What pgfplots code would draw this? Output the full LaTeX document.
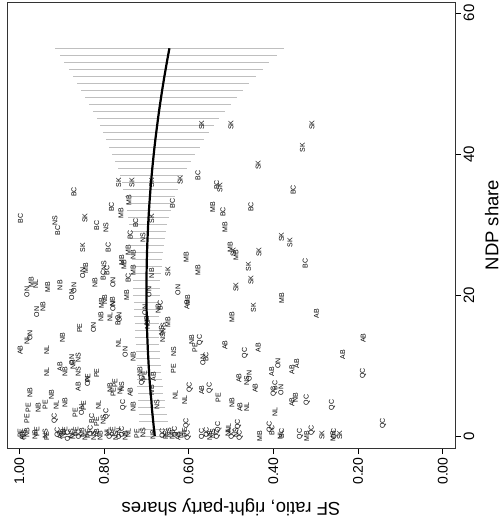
\documentclass[border=0pt]{standalone}
\usepackage{fontspec}
\setmainfont{Liberation Sans}
\usepackage{pgfplots}
\pgfplotsset{compat=1.18}
\usepackage{pgfplotstable}

\pgfplotstableread{
sf ndp lab
0.569 44.1 SK
0.500 44.1 SK
0.309 44.1 SK
0.331 40.9 SK
0.436 38.4 SK
0.578 37.0 BC
0.620 36.3 SK
0.765 35.9 SK
0.734 35.9 SK
0.687 35.9 SK
0.534 35.6 BC
0.526 35.2 SK
0.353 34.9 BC
0.871 34.6 BC
0.741 33.5 MB
0.638 33.0 BC
0.543 32.5 MB
0.453 32.5 BC
0.782 32.5 BC
0.519 31.8 BC
0.760 31.6 MB
0.997 30.9 BC
0.845 30.9 SK
0.687 30.8 SK
0.725 30.2 BC
0.916 30.6 NS
0.909 29.2 BC
0.817 29.9 BC
0.795 29.6 NS
0.514 29.6 MB
0.738 28.5 BC
0.708 28.2 NS
0.381 28.2 SK
0.361 27.4 SK
0.502 26.8 MB
0.850 26.7 SK
0.790 26.7 BC
0.743 26.4 MB
0.434 26.1 SK
0.488 25.7 MB
0.495 26.1 SK
0.606 25.4 MB
0.758 25.0 MB
0.753 24.3 MB
0.325 24.5 BC
0.731 25.7 NB
0.459 24.0 SK
0.793 23.5 BC
0.800 24.1 NS
0.731 23.5 MB
0.687 23.1 NB
0.649 23.3 SK
0.578 23.5 MB
0.850 23.1 ON
0.843 23.8 MB
0.802 22.8 BC
0.743 22.4 BC
0.453 22.1 SK
0.821 21.8 NB
0.779 21.8 ON
0.972 21.8 MB
0.982 20.4 ON
0.961 21.6 NL
0.933 21.1 MB
0.904 21.4 NB
0.488 21.1 SK
0.871 21.0 ON
0.876 20.0 ON
0.694 20.4 ON
0.625 20.7 ON
0.746 20.0 MB
0.380 19.6 MB
0.602 19.3 MB
0.604 18.6 AB
0.806 18.9 MB
0.798 19.3 NB
0.780 19.0 NB
0.779 18.4 ON
0.944 18.3 NB
0.959 17.6 ON
0.447 18.2 SK
0.703 17.9 ON
0.672 18.0 NB
0.667 18.5 BC
0.807 16.9 NB
0.786 16.9 NL
0.767 16.4 BC
0.764 16.8 ON
0.498 16.9 MB
0.298 17.4 AB
0.649 16.2 MB
0.664 15.0 NS
0.593 13.6 NB
0.573 13.6 QC
0.857 15.3 PE
0.825 15.4 ON
0.898 13.9 NB
0.699 16.4 NB
0.697 15.8 NS
0.660 15.3 NS
0.982 13.6 NL
0.975 14.3 ON
0.998 12.2 AB
0.935 12.2 NL
0.766 13.2 NL
0.750 11.9 ON
0.731 11.2 NB
0.585 12.5 PE
0.514 12.9 AB
0.467 11.8 QC
0.436 12.5 AB
0.635 11.9 NS
0.566 10.8 ON
0.559 11.2 BC
0.389 10.3 ON
0.345 10.3 AB
0.356 9.4 AB
0.404 9.1 AB
0.636 9.6 PE
0.481 8.2 AB
0.463 7.9 NS
0.457 8.5 ON
0.443 6.8 AB
0.396 7.2 BC
0.382 6.5 ON
0.399 6.3 QC
0.597 6.9 QC
0.550 6.8 QC
0.569 6.5 AB
0.632 5.8 NL
0.609 5.1 NL
0.530 5.4 PE
0.498 4.7 NB
0.479 4.1 AB
0.463 4.1 NL
0.356 4.8 AB
0.348 5.4 NB
0.321 5.1 QC
0.396 3.4 NL
0.605 1.8 QC
0.530 1.3 QC
0.506 1.1 NL
0.483 1.6 QC
0.408 1.3 QC
0.403 0.8 BC
0.236 11.5 AB
0.188 13.9 AB
0.188 8.9 QC
0.261 4.4 QC
0.141 1.8 QC
0.309 0.8 QC
0.904 9.8 AB
0.892 9.1 NB
0.876 10.8 ON
0.873 10.1 NB
0.861 11.1 NS
0.861 9.1 NS
0.817 8.9 PE
0.839 7.7 ON
0.838 8.2 PE
0.861 7.0 AB
0.935 9.1 NL
0.975 6.2 NB
0.955 4.0 NB
0.979 4.0 PE
0.939 4.4 PE
0.924 5.8 NB
0.913 4.4 NL
0.892 4.7 NB
0.916 2.5 QC
0.868 3.3 PE
0.853 3.7 ON
0.848 4.3 PE
0.813 4.4 NL
0.829 2.5 BC
0.817 2.0 PE
0.802 2.3 NS
0.794 3.1 QC
0.982 2.5 PE
0.786 6.8 NB
0.774 7.5 PE
0.778 6.2 PE
0.762 6.5 NL
0.758 7.0 NS
0.738 6.2 AB
0.754 4.4 QC
0.731 4.1 NB
0.705 8.6 PE
0.715 9.1 NB
0.710 7.9 QC
0.683 8.4 AB
0.687 6.5 NB
0.675 4.4 NS
0.661 14.0 NS
0.998 0.4 PE
0.993 0.0 AB
0.989 0.2 NS
0.982 0.5 NB
0.963 0.2 NB
0.958 0.6 PE
0.939 0.3 NS
0.935 0.0 PE
0.909 0.5 QC
0.904 0.1 AB
0.897 0.3 NB
0.892 0.7 PE
0.885 0.0 QC
0.878 0.4 NS
0.873 0.1 NL
0.866 0.6 PE
0.859 0.2 QC
0.852 0.5 NB
0.845 0.0 NL
0.838 0.3 PE
0.831 0.7 QC
0.824 0.1 NS
0.817 0.4 AB
0.809 0.0 NB
0.793 0.5 NL
0.786 0.2 QC
0.779 0.6 PE
0.772 0.0 NS
0.765 0.3 ON
0.757 0.6 QC
0.750 0.1 NB
0.743 0.4 NL
0.722 0.3 PE
0.708 0.5 NS
0.684 0.2 NB
0.661 0.4 QC
0.654 0.1 PE
0.647 0.5 NS
0.639 0.2 NB
0.632 0.6 QC
0.625 0.0 AB
0.618 0.3 NL
0.609 0.5 PE
0.602 0.1 QC
0.568 0.3 QC
0.557 0.5 QC
0.550 0.1 NB
0.543 0.4 NS
0.533 0.2 QC
0.507 0.6 NL
0.498 0.2 QC
0.488 0.5 NS
0.479 0.1 QC
0.432 0.0 MB
0.384 0.1 NL
0.380 0.4 BC
0.337 0.3 QC
0.321 0.0 MB
0.285 0.1 SK
0.259 0.0 MB
0.256 0.3 QC
0.243 0.1 SK
}\pts

\pgfplotstableread{
ndp fit h
0 0.6800 0.036
1 0.6819 0.035
2 0.6836 0.034
3 0.6853 0.033
4 0.6869 0.032
5 0.6880 0.031
6 0.6897 0.030
7 0.6910 0.030
8 0.6923 0.029
9 0.6934 0.029
10 0.6944 0.028
11 0.6953 0.028
12 0.6962 0.028
13 0.6969 0.028
14 0.6976 0.028
15 0.6982 0.028
16 0.6986 0.028
17 0.6990 0.029
18 0.6993 0.029
19 0.6995 0.030
20 0.6996 0.031
21 0.6996 0.032
22 0.6995 0.033
23 0.6994 0.034
24 0.6991 0.035
25 0.6988 0.036
26 0.6983 0.038
27 0.6978 0.040
28 0.6971 0.041
29 0.6964 0.043
30 0.6956 0.045
31 0.6947 0.048
32 0.6937 0.051
33 0.6926 0.055
34 0.6914 0.059
35 0.6902 0.064
36 0.6888 0.069
37 0.6873 0.075
38 0.6858 0.082
39 0.6841 0.090
40 0.6824 0.098
41 0.6806 0.107
42 0.6787 0.116
43 0.6766 0.125
44 0.6745 0.135
45 0.6724 0.145
46 0.6701 0.156
47 0.6677 0.167
48 0.6652 0.179
49 0.6627 0.191
50 0.6600 0.203
51 0.6573 0.216
52 0.6544 0.229
53 0.6515 0.242
54 0.6485 0.256
55 0.6454 0.270
}\ci

\begin{document}
\begin{tikzpicture}
\begin{axis}[
  width=448pt, height=446pt, scale only axis,
  x dir=reverse,
  xmin=-0.029, xmax=1.029, ymin=-1.7, ymax=61.56,
  clip=false,
  axis line style={line width=0.9pt, black!80},
  xtick={0,0.2,0.4,0.6,0.8,1}, ytick={0,20,40,60},
  xtick pos=left, ytick pos=right,
  xticklabel pos=left, yticklabel pos=right,
  tick align=outside, major tick length=6pt,
  tick style={black, line width=0.7pt},
  /pgf/number format/assume math mode=true,
  x tick label style={rotate=90, anchor=east, font=\fontsize{14}{16}\selectfont,
    /pgf/number format/fixed, /pgf/number format/fixed zerofill, /pgf/number format/precision=2},
  y tick label style={xshift=-1pt, rotate=90, anchor=north, font=\fontsize{15}{17}\selectfont},
  xlabel={SF ratio, right-party shares},
  ylabel={NDP share},
  every axis x label/.style={at={(axis description cs:0.5,0)}, yshift=-59pt, rotate=180, anchor=center, font=\fontsize{18.5}{20}\selectfont},
  every axis y label/.style={at={(axis description cs:1,0.5)}, xshift=43.5pt, rotate=90, anchor=base, font=\fontsize{18.5}{20}\selectfont},
]
\addplot[forget plot, draw=none, mark=none, mark size=0pt,
  error bars/.cd, x dir=both, x explicit, error mark=none,
  error bar style={line width=0.9pt, draw=black!25}]
  table[x=fit, y=ndp, x error=h] {\ci};
\addplot[only marks, mark=*, mark size=0pt, mark options={draw=none, fill=none},
  point meta=explicit symbolic, nodes near coords,
  every node near coord/.append style={rotate=90, anchor=center, inner sep=0pt,
    font=\fontsize{7}{8}\selectfont, text=black}]
  table[x=sf, y=ndp, meta=lab] {\pts};
\addplot[black, line width=2.2pt, mark=none] table[x=fit, y=ndp] {\ci};
\end{axis}
\pgfresetboundingbox
\path ([shift={(-7pt,-81pt)}]current axis.south west) rectangle ([shift={(48pt,2pt)}]current axis.north east);
\end{tikzpicture}
\end{document}
